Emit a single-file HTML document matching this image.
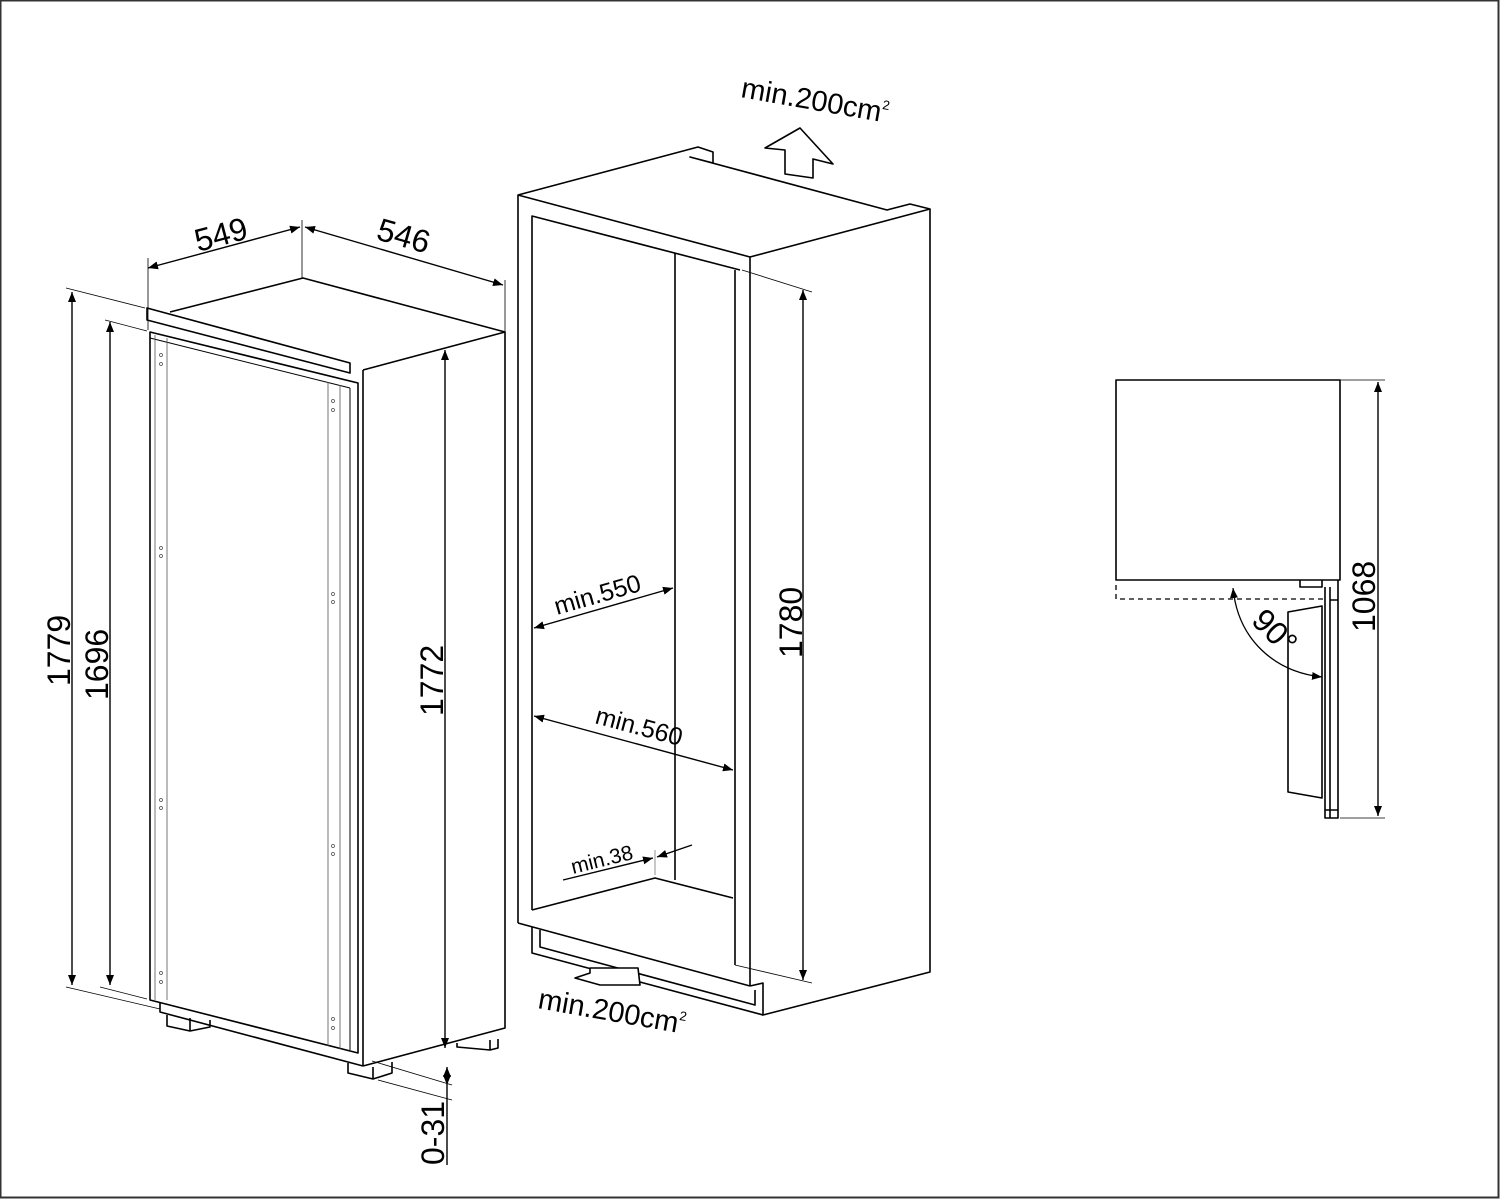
<!DOCTYPE html>
<html><head><meta charset="utf-8"><style>
html,body{margin:0;padding:0;background:#fff}
svg{display:block}
text{font-family:"Liberation Sans",Arial,sans-serif;fill:#000}
</style></head><body>
<svg width="1500" height="1199" viewBox="0 0 1500 1199" xmlns="http://www.w3.org/2000/svg">
<defs>
<marker id="a" viewBox="0 0 10 10" refX="10" refY="5" markerWidth="10" markerHeight="10" orient="auto-start-reverse" markerUnits="userSpaceOnUse"><path d="M0,1 L10,5 L0,9 Z" fill="#000"/></marker>
</defs>
<rect x="0.5" y="0.5" width="1498" height="1197" fill="none" stroke="#333" stroke-width="2"/>
<g fill="none" stroke="#000" stroke-width="1.6" stroke-linejoin="round">
<path d="M170,312 L303,278 L505,332 L363,370"/>
<path d="M147,308 L147,320 L350,373 L350,363 Z"/>
<path d="M363,370 L363,1066 M505,332 L505,1028 L363,1066"/>
<path d="M150,332 L358,383 L358,1053 L150,1000 Z"/>
<path d="M150,338 L350,388 M350,388 L350,1050" stroke-width="1"/>
<path d="M155,335 L155,1000 M167,338 L167,1000 M328,382 L328,1046 M340,385 L340,1049" stroke-width="0.8" stroke="#555"/>
<path d="M160,1003 L160,1012 L363,1066"/>
<path d="M167,1015 L167,1026 L190,1031 L210,1027 L210,1020 M190,1031 L190,1018"/>
<path d="M348,1063 L348,1073 L373,1079 L392,1073 L392,1062 M373,1079 L373,1067"/>
<path d="M457,1043 L457,1047 L490,1050 L498,1048 L498,1039 M490,1050 L490,1040"/>
<g fill="none" stroke="#444" stroke-width="0.7">
<circle cx="161" cy="355" r="1.5"/><circle cx="161" cy="364" r="1.5"/>
<circle cx="333" cy="401" r="1.5"/><circle cx="333" cy="410" r="1.5"/>
<circle cx="161" cy="548" r="1.5"/><circle cx="161" cy="556" r="1.5"/>
<circle cx="333" cy="594" r="1.5"/><circle cx="333" cy="602" r="1.5"/>
<circle cx="161" cy="800" r="1.5"/><circle cx="161" cy="808" r="1.5"/>
<circle cx="333" cy="846" r="1.5"/><circle cx="333" cy="854" r="1.5"/>
<circle cx="161" cy="973" r="1.5"/><circle cx="161" cy="982" r="1.5"/>
<circle cx="333" cy="1019" r="1.5"/><circle cx="333" cy="1028" r="1.5"/>
</g>
<g stroke-width="1.4">
<path d="M72,985 L72,292" marker-end="url(#a)" marker-start="url(#a)"/>
<path d="M110,985 L110,322" marker-end="url(#a)" marker-start="url(#a)"/>
<path d="M445,1048 L445,350" marker-end="url(#a)" marker-start="url(#a)"/>
<path d="M148,268 L300,227" marker-end="url(#a)" marker-start="url(#a)"/>
<path d="M305,227 L503,285" marker-end="url(#a)" marker-start="url(#a)"/>
<path d="M447,1067 L447,1085" marker-end="url(#a)" marker-start="url(#a)"/>
<path d="M447,1085 L447,1165"/>
</g>
<g stroke-width="0.8">
<path d="M66,288 L145,308 M105,320 L147,331 M66,987 L160,1009 M100,987 L147,999"/>
<path d="M148,258 L148,330 M302,220 L302,278 M505,280 L505,332"/>
<path d="M372,1061 L452,1085 M378,1080 L452,1100"/>
</g>
<path d="M518,923 L518,195 L698,147 L713,152 L713,163 L690,157 L887,210 L910,204 L930,209 L750,257 L518,195"/>
<path d="M750,257 L750,986 M930,209 L930,972 L763,1015 L763,983 L750,986"/>
<path d="M518,923 L750,986"/>
<path d="M532,910 L532,216 L740,270 M735,270 L735,965"/>
<path d="M675,253 L675,880 M532,910 L655,878 L733,898"/>
<path d="M532,927 L532,953 L763,1015 M540,930 L540,947 L755,1005 L755,990"/>
<path d="M742,270 L812,292" stroke-width="0.8"/>
<path d="M735,965 L812,983" stroke-width="0.8"/>
<path d="M655,850 L655,875" stroke-width="0.8" stroke="#777"/>
<g stroke-width="1.4">
<path d="M803,980 L803,290" marker-end="url(#a)" marker-start="url(#a)"/>
<path d="M534,628 L673,588" marker-end="url(#a)" marker-start="url(#a)"/>
<path d="M534,716 L733,770" marker-end="url(#a)" marker-start="url(#a)"/>
<path d="M563,880 L653,858" marker-end="url(#a)"/>
<path d="M692,845 L657,857" marker-end="url(#a)"/>
</g>
<path d="M785,174 L785,150 L765,148 L800,128 L833,164 L813,159 L813,178 Z" fill="#fff"/>
<path d="M590,968 L638,968 L640,985 L600,985 L575,978 L590,973 Z" fill="#fff"/>
<rect x="1116" y="380" width="224" height="200" fill="#fff"/>
<path d="M1300,580 L1300,587 L1322,587 L1322,580"/>
<path d="M1116,585 L1116,599 L1325,599" stroke-dasharray="5,4" stroke-width="1.3"/>
<path d="M1325,587 L1325,818 L1338,818 L1338,580 M1330,587 L1330,818 M1330,600 L1338,600 M1325,810 L1338,810"/>
<path d="M1288,612 L1322,606 L1322,798 L1288,792 Z"/>
<path d="M1233,588 C1238,640 1275,672 1322,677" stroke-width="1.3" marker-start="url(#a)" marker-end="url(#a)"/>
<path d="M1340,380 L1385,380 M1340,818 L1385,818" stroke-width="0.8"/>
<path d="M1378,382 L1378,816" stroke-width="1.4" marker-start="url(#a)" marker-end="url(#a)"/>
</g>
<g font-size="32">
<text x="0" y="0" transform="translate(198,252) rotate(-15)">549</text>
<text x="0" y="0" transform="translate(375,239) rotate(16)">546</text>
<text x="0" y="0" transform="translate(70,686) rotate(-90)">1779</text>
<text x="0" y="0" transform="translate(108,700) rotate(-90)">1696</text>
<text x="0" y="0" transform="translate(443,716) rotate(-90)">1772</text>
<text x="0" y="0" transform="translate(444,1165) rotate(-90)">0-31</text>
<text x="0" y="0" transform="translate(802,658) rotate(-90)">1780</text>
<text x="0" y="0" transform="translate(1375,632) rotate(-90)">1068</text>
<text x="0" y="0" transform="translate(1250,622) rotate(45)">90°</text>
<text x="0" y="0" font-size="29" transform="translate(740,97) rotate(10)">min.200cm<tspan font-size="13" dy="-13">2</tspan></text>
<text x="0" y="0" font-size="29" transform="translate(537,1008) rotate(10)">min.200cm<tspan font-size="13" dy="-13">2</tspan></text>
</g>
<g font-size="25">
<text x="0" y="0" transform="translate(557,615) rotate(-16)">min.550</text>
<text x="0" y="0" transform="translate(594,723) rotate(15)">min.560</text>
</g>
<text x="0" y="0" font-size="21" transform="translate(573,874) rotate(-14)">min.38</text>
</svg>
</body></html>
